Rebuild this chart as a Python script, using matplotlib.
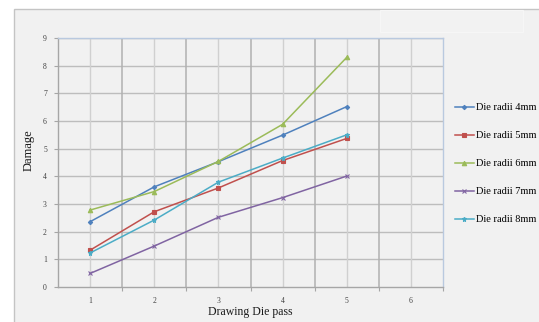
import matplotlib
matplotlib.use("Agg")
import matplotlib.pyplot as plt
from matplotlib.patches import Rectangle

# Die pass number and damage values for each die radius
passes = [1, 2, 3, 4, 5]
pass_labels = ["1", "2", "3", "4", "5", "6"]
damage_4mm = [2.36, 3.62, 4.53, 5.49, 6.52]
damage_5mm = [1.33, 2.72, 3.58, 4.57, 5.37]
damage_6mm = [2.78, 3.45, 4.54, 5.88, 8.30]
damage_7mm = [0.49, 1.48, 2.52, 3.23, 4.01]
damage_8mm = [1.23, 2.42, 3.79, 4.66, 5.50]
series_names = ["Die radii 4mm", "Die radii 5mm", "Die radii 6mm",
                "Die radii 7mm", "Die radii 8mm"]

serif = ["Liberation Serif", "DejaVu Serif"]

fig = plt.figure(figsize=(5.39, 3.22), dpi=100)
fig.patch.set_facecolor("white")

# chart area panel
fig.patches.append(Rectangle((14 / 539, -0.05), 1.0, 1 - 9 / 322 + 0.05,
                             transform=fig.transFigure, facecolor="#f1f1f1",
                             edgecolor="#c4c4c4", linewidth=1.0, zorder=0))
# faint title placeholder box
fig.patches.append(Rectangle((380 / 539, 1 - 32 / 322), 143 / 539, 22 / 322,
                             transform=fig.transFigure, facecolor="#f2f2f2",
                             edgecolor="#f6f6f6", linewidth=0.8, zorder=0.5))

ax = fig.add_axes([58 / 539, 1 - 287 / 322, 385 / 539, 249 / 322])
ax.set_zorder(2)
ax.set_facecolor("#f1f1f1")
ax.set_xlim(0.5, 6.5)
ax.set_ylim(0, 9)

# gridlines
for y in range(1, 10):
    ax.axhline(y, color="#bdbdbd", linewidth=1.0, zorder=1)
for x in [1.5, 2.5, 3.5, 4.5, 5.5]:
    ax.axvline(x, color="#b0b0b0", linewidth=1.1, zorder=1)
for x in range(1, 7):
    ax.axvline(x, color="#d0d0d0", linewidth=1.0, zorder=1)

styles = [
    (damage_4mm, "#4f81bd", "D", 2.2),
    (damage_5mm, "#c0504d", "s", 3.0),
    (damage_6mm, "#9bbb59", "^", 3.2),
    (damage_7mm, "#8064a2", "x", 3.0),
    (damage_8mm, "#4bacc6", "*", 3.6),
]
handles = []
for (vals, col, mk, ms), name in zip(styles, series_names):
    h, = ax.plot(passes, vals, color=col, marker=mk, markersize=ms,
                 markeredgewidth=0.8, linewidth=1.1, label=name, zorder=3)
    handles.append(h)

# spines
for side in ["top", "right"]:
    ax.spines[side].set_color("#b9c9df")
    ax.spines[side].set_linewidth(1.0)
for side in ["left", "bottom"]:
    ax.spines[side].set_color("#a6a6a6")
    ax.spines[side].set_linewidth(1.0)

ax.set_yticks(range(0, 10))
ax.set_yticklabels([str(i) for i in range(10)], fontfamily=serif,
                   fontsize=5.5, color="#404040")
ax.tick_params(axis="y", length=3, width=0.8, color="#a6a6a6", pad=5)

ax.set_xticks([1.5, 2.5, 3.5, 4.5, 5.5, 6.5])
ax.set_xticklabels([])
ax.set_xticks(range(1, 7), minor=True)
ax.set_xticklabels(pass_labels, minor=True, fontfamily=serif,
                   fontsize=5.5, color="#404040")
ax.tick_params(axis="x", which="major", length=3, width=0.8, color="#a6a6a6")
ax.tick_params(axis="x", which="minor", length=0, pad=7)

fig.text(29 / 539, 1 - 150 / 322, "Damage", rotation=90, ha="center",
         va="center", fontfamily=serif, fontsize=9, color="#1a1a1a")
fig.text(250 / 539, 1 - 312 / 322, "Drawing Die pass", ha="center",
         va="center", fontfamily=serif, fontsize=8.5, color="#1a1a1a")

leg = fig.legend(handles=handles, loc="upper left",
                 bbox_to_anchor=(455 / 539, 1 - 103 / 322),
                 frameon=False, prop={"family": serif, "size": 7.5},
                 handlelength=1.8, handletextpad=0.2, labelspacing=1.8,
                 borderpad=0, borderaxespad=0)
leg.set_zorder(3)

fig.savefig("out.png", dpi=100)
